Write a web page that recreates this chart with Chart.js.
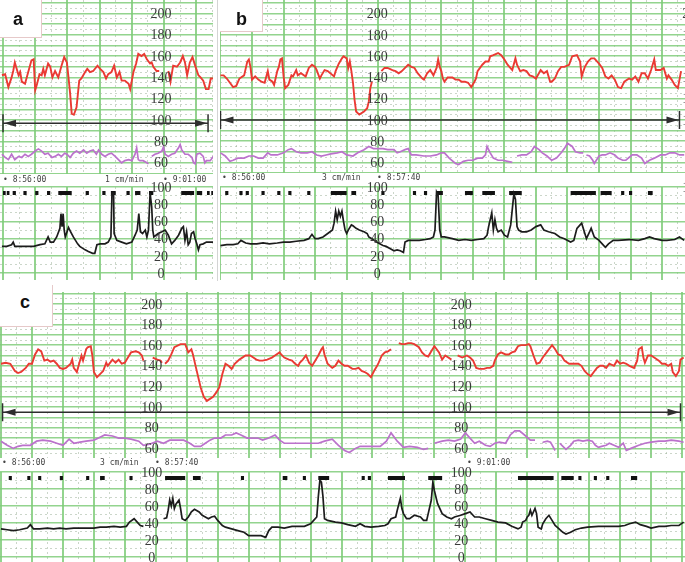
<!DOCTYPE html>
<html>
<head>
<meta charset="utf-8">
<script src="https://cdn.jsdelivr.net/npm/chart.js@4.4.0/dist/chart.umd.min.js"></script>
<style>
  body { margin: 0; background: #fff; }
  #page { position: relative; width: 685px; height: 562px; overflow: hidden; background: #fff; }
  #page canvas { position: absolute; }
  .strip { position: absolute; font: 8px "DejaVu Sans Mono", monospace; color: #444; white-space: pre; line-height: 10px; }
  .box { position: absolute; background: #fff; border-right: 1px solid #e6c9c9; border-bottom: 1px solid #e6c9c9; }
  .tag { position: absolute; font: bold 18px "Liberation Sans", Arial, sans-serif; line-height: 18px; color: #111; }
  .sep { position: absolute; left: 217px; top: 0; width: 1px; height: 281px; background: #d4d4d4; }
</style>
</head>
<body>
<div id="page">
  <canvas id="aF" width="213" height="174" style="left:0;top:0"></canvas>
  <canvas id="aU" width="213" height="99" style="left:0;top:181px"></canvas>
  <canvas id="bF" width="465" height="173" style="left:220px;top:0"></canvas>
  <canvas id="bU" width="465" height="99" style="left:220px;top:181px"></canvas>
  <canvas id="cF" width="685" height="166" style="left:0;top:292px"></canvas>
  <canvas id="cU" width="685" height="96" style="left:0;top:466px"></canvas>
  <div class="sep"></div>

  <div class="strip" style="left:3px;top:175px">• 8:56:00</div>
  <div class="strip" style="left:105px;top:175px">1 cm/min</div>
  <div class="strip" style="left:163px;top:175px">• 9:01:00</div>
  <div class="strip" style="left:222px;top:173px">• 8:56:00</div>
  <div class="strip" style="left:322px;top:173px">3 cm/min</div>
  <div class="strip" style="left:377px;top:173px">• 8:57:40</div>
  <div class="strip" style="left:2px;top:458px">• 8:56:00</div>
  <div class="strip" style="left:100px;top:458px">3 cm/min</div>
  <div class="strip" style="left:155px;top:458px">• 8:57:40</div>
  <div class="strip" style="left:467px;top:458px">• 9:01:00</div>

  <div class="box" style="left:0;top:0;width:41px;height:37px"></div>
  <div class="tag" style="left:13px;top:10px">a</div>
  <div class="box" style="left:220px;top:0;width:42px;height:31px"></div>
  <div class="tag" style="left:236px;top:10px">b</div>
  <div class="box" style="left:0;top:285px;width:52px;height:41px"></div>
  <div class="tag" style="left:20px;top:293px">c</div>
</div>
<script>
// time axis: seconds after 8:56:00; heart rate in bpm; contraction in units 0-100
const fhrTicks = [200, 180, 160, 140, 120, 100, 80, 60];
const ucTicks = [100, 80, 60, 40, 20, 0];
const markLevel = 93;

// ---- panel a (1 cm/min)
const aFhr = [[-2,142],[4,143],[10,131],[16,140],[19,146],[22,154],[29,142],[32,145],[35,136],[41,134],[47,145],[53,156],[57,157],[60,128],[63,133],[68,143],[72,142],[75,148],[78,142],[84,153],[88,150],[92,140],[97,146],[103,140],[109,151],[114,159],[119,154],[122,140],[125,125],[128,106],[132,105],[137,112],[142,137],[146,139],[153,145],[157,148],[162,145],[168,146],[176,151],[181,148],[187,145],[192,139],[196,143],[202,145],[207,151],[212,140],[217,145],[221,137],[227,137],[234,134],[237,129],[240,137],[243,145],[248,153],[252,162],[258,160],[263,162],[268,157],[274,153],[277,154],[280,150],[286,146],[291,146],[299,null],[308,146],[312,136],[317,151],[324,150],[330,154],[335,160],[339,154],[343,142],[348,154],[353,159],[358,151],[364,142],[368,140],[373,137],[378,129],[383,129],[387,139],[392,139]];
const aMhr = [[-2,68],[4,65],[10,63],[16,68],[22,63],[29,66],[35,65],[41,68],[47,66],[53,68],[60,71],[66,73],[72,71],[78,68],[84,69],[91,65],[97,66],[103,68],[109,66],[115,69],[119,68],[125,65],[131,69],[137,71],[143,69],[150,72],[156,69],[162,71],[168,72],[174,68],[178,72],[184,68],[190,66],[196,68],[202,69],[209,66],[215,63],[221,60],[227,62],[234,63],[240,62],[246,68],[249,74],[252,63],[255,62],[261,62],[268,60],[271,59],[274,null],[277,66],[283,68],[289,69],[296,71],[299,75],[302,68],[308,66],[314,68],[320,69],[327,74],[330,77],[333,72],[339,68],[345,68],[352,65],[355,60],[358,59],[361,68],[367,69],[373,66],[376,60],[379,62],[386,62],[392,66]];
const aUc = [[-2,31],[7,31],[16,33],[19,36],[22,31],[32,31],[44,31],[57,31],[69,33],[78,34],[84,42],[88,36],[94,36],[100,42],[106,52],[108,69],[110,54],[112,69],[114,50],[116,42],[122,53],[126,48],[131,42],[139,34],[143,31],[153,27],[159,25],[167,23],[171,23],[175,33],[181,34],[190,34],[196,36],[201,42],[203,93],[206,93],[207,46],[212,38],[221,36],[230,34],[240,36],[246,44],[250,50],[253,69],[256,48],[260,46],[265,50],[268,42],[271,50],[274,93],[277,77],[279,50],[281,42],[289,46],[296,48],[302,50],[308,44],[314,34],[320,38],[327,44],[333,52],[336,54],[339,38],[342,48],[345,33],[348,36],[351,46],[355,48],[358,40],[361,34],[364,27],[367,33],[373,34],[379,36],[392,36]];
const aMoves = [[0,5],[7,12],[18,24],[38,44],[60,66],[82,88],[103,128],[154,160],[185,191],[201,210],[230,236],[246,256],[272,280],[332,356],[361,371],[380,385],[388,392]];
const aArrow = [0, 382, 97];
const aCols = [296];

// ---- panel b (3 cm/min)
const bFhr = [[0,142],[2,142],[4,139],[6,135],[8,131],[10,132],[12,139],[15,142],[17,155],[18,157],[19,150],[20,138],[22,141],[24,138],[26,136],[28,135],[30,146],[31,138],[33,136],[34,133],[36,146],[37,150],[38,157],[39,158],[40,141],[41,130],[43,133],[45,142],[46,141],[48,147],[49,142],[51,144],[54,141],[56,149],[58,152],[60,150],[61,147],[63,139],[64,142],[66,147],[68,146],[72,141],[73,146],[75,153],[77,158],[78,160],[80,158],[81,149],[82,155],[83,146],[84,135],[85,119],[86,108],[88,105],[91,108],[93,111],[94,117],[95,130],[96,136],[99,null],[102,146],[104,149],[106,149],[109,147],[111,146],[113,144],[115,146],[117,149],[119,152],[121,150],[123,149],[125,144],[128,139],[129,138],[131,144],[133,147],[135,142],[137,149],[138,157],[139,150],[140,146],[141,139],[142,136],[144,140],[147,140],[149,138],[151,138],[153,136],[155,136],[157,135],[159,131],[161,136],[162,139],[163,146],[166,152],[168,155],[170,155],[171,160],[173,161],[176,163],[178,161],[180,157],[182,152],[185,147],[187,158],[188,152],[190,146],[192,147],[194,146],[196,142],[198,141],[200,139],[203,147],[205,144],[207,146],[209,136],[210,136],[212,139],[214,146],[216,150],[218,150],[221,152],[223,160],[226,161],[228,155],[229,141],[231,150],[233,155],[235,158],[237,158],[240,153],[242,149],[244,141],[246,139],[248,142],[250,138],[252,131],[254,130],[256,136],[259,139],[261,138],[263,141],[265,136],[267,144],[269,144],[271,139],[273,147],[275,157],[276,147],[279,147],[281,149],[283,139],[284,142],[286,138],[288,133],[290,130],[292,146]];
const bMhr = [[0,69],[3,66],[6,61],[8,62],[11,64],[15,64],[18,66],[21,66],[24,64],[27,64],[30,69],[32,67],[36,67],[40,69],[43,72],[45,73],[48,70],[51,69],[55,69],[58,70],[61,67],[64,66],[67,67],[70,68],[74,69],[77,70],[80,67],[84,66],[87,69],[91,72],[94,75],[97,73],[100,73],[103,73],[106,72],[110,72],[112,69],[114,70],[117,72],[119,73],[121,67],[124,67],[129,66],[133,66],[137,67],[140,69],[142,69],[145,64],[149,59],[151,58],[154,61],[157,62],[160,62],[163,64],[166,64],[168,67],[169,75],[171,69],[173,64],[176,62],[179,62],[182,61],[185,60],[186,null],[188,66],[191,67],[194,67],[197,70],[199,75],[202,72],[204,69],[207,66],[210,62],[213,64],[216,69],[218,73],[220,78],[223,75],[225,70],[228,69],[230,69],[231,null],[232,67],[234,66],[236,62],[237,59],[240,66],[242,67],[244,67],[247,69],[250,67],[252,64],[255,62],[257,62],[261,67],[264,67],[267,64],[269,59],[272,62],[275,64],[279,67],[282,67],[285,69],[288,69],[291,67],[294,67]];
const bUc = [[0,32],[4,33],[8,33],[11,34],[13,38],[16,35],[19,34],[23,34],[27,35],[31,34],[36,35],[40,36],[44,36],[48,37],[53,38],[56,40],[58,45],[60,40],[62,40],[65,42],[68,46],[71,50],[72,58],[73,72],[74,62],[75,72],[76,66],[77,72],[78,60],[79,50],[80,46],[81,50],[83,56],[84,55],[86,52],[88,50],[91,48],[93,46],[94,42],[96,40],[99,36],[101,34],[103,32],[105,31],[108,28],[110,26],[112,27],[114,26],[116,24],[117,36],[119,38],[122,38],[126,38],[130,39],[133,40],[135,42],[136,50],[137,94],[138,90],[139,50],[140,42],[142,42],[147,40],[151,38],[155,39],[159,38],[163,39],[167,40],[169,44],[170,54],[172,70],[173,50],[174,62],[175,52],[176,48],[178,50],[180,44],[182,42],[184,56],[185,74],[186,92],[187,86],[188,54],[189,50],[191,48],[194,48],[197,50],[200,54],[203,56],[205,50],[208,48],[212,46],[215,42],[218,40],[222,36],[224,38],[226,52],[228,56],[229,58],[231,46],[232,40],[234,48],[235,52],[237,42],[240,38],[242,34],[244,30],[246,34],[249,38],[252,38],[259,39],[265,38],[269,40],[272,42],[275,40],[280,38],[283,38],[288,39],[291,42],[294,38]];
const bMoves = [[3,5],[12,14],[16,18],[26,28],[36,38],[43,45],[55,57],[70,80],[83,86],[102,104],[122,124],[129,131],[137,141],[155,160],[166,174],[183,191],[222,238],[241,248],[254,256],[259,261],[271,274]];
const bArrow = [0, 291, 100];
const bCols = [100, 300];

// ---- panel c (3 cm/min)
const cFhr = [[0,142],[3,143],[6,142],[9,135],[11,133],[13,134],[16,138],[18,142],[20,142],[22,151],[24,156],[26,154],[28,145],[30,146],[32,144],[34,145],[36,142],[38,138],[40,137],[42,138],[45,142],[46,146],[47,138],[49,134],[51,145],[52,150],[53,145],[55,156],[56,158],[58,159],[59,150],[60,134],[62,129],[64,132],[66,135],[68,143],[69,140],[72,146],[74,143],[76,146],[78,142],[80,143],[82,148],[84,153],[87,154],[89,153],[91,150],[92,145],[95,null],[98,148],[101,146],[103,145],[104,143],[105,null],[106,142],[108,145],[110,151],[112,158],[116,161],[119,161],[121,153],[123,156],[124,151],[126,138],[129,119],[131,110],[133,106],[135,108],[137,110],[139,114],[141,119],[143,132],[145,142],[147,140],[149,137],[151,142],[154,146],[158,150],[161,150],[163,148],[165,146],[167,145],[169,145],[172,146],[175,148],[177,150],[180,153],[181,151],[183,148],[186,146],[188,145],[190,142],[192,140],[193,143],[195,146],[197,150],[199,143],[201,140],[203,145],[205,150],[207,156],[208,158],[209,151],[211,142],[214,138],[216,140],[218,145],[220,142],[222,140],[224,140],[227,137],[229,137],[231,138],[233,135],[235,134],[237,132],[239,129],[241,135],[243,140],[244,143],[246,150],[248,153],[250,154],[252,156],[254,null],[257,162],[259,161],[261,161],[263,162],[265,162],[267,161],[270,158],[272,153],[274,150],[276,149],[278,154],[280,159],[283,153],[285,146],[287,150],[289,148],[291,146],[293,null],[295,150],[298,148],[301,150],[303,148],[305,145],[307,138],[309,137],[312,137],[314,138],[316,138],[318,140],[319,145],[321,151],[323,153],[326,151],[328,151],[330,153],[332,154],[334,159],[336,160],[339,160],[341,161],[342,159],[344,150],[346,142],[348,143],[350,148],[353,154],[355,158],[356,160],[358,156],[360,151],[362,150],[364,145],[367,142],[369,142],[371,142],[373,142],[375,140],[377,135],[379,132],[381,130],[383,134],[385,138],[387,140],[389,140],[391,138],[393,142],[396,140],[398,145],[400,142],[402,143],[404,142],[406,140],[409,138],[411,145],[412,156],[414,158],[415,148],[416,143],[418,150],[420,150],[422,148],[425,145],[427,142],[429,142],[431,140],[433,142],[434,134],[436,130],[438,135],[439,146],[441,148]];
const cMhr = [[0,67],[4,63],[8,60],[11,62],[14,63],[19,63],[23,67],[27,68],[32,67],[36,65],[40,63],[44,69],[47,65],[51,66],[55,67],[60,68],[63,70],[67,73],[72,72],[76,70],[80,70],[84,69],[89,67],[92,63],[96,64],[101,67],[105,65],[109,68],[114,68],[118,68],[122,65],[125,62],[129,62],[132,65],[135,68],[138,70],[142,70],[145,73],[149,73],[152,75],[155,73],[159,70],[163,70],[166,70],[169,68],[173,70],[177,73],[180,68],[183,65],[188,65],[192,65],[196,65],[201,65],[205,65],[209,67],[214,69],[218,63],[222,58],[225,56],[229,60],[232,62],[236,62],[241,62],[245,62],[249,67],[252,75],[256,67],[260,61],[264,62],[269,61],[273,59],[276,60],[278,null],[280,65],[285,67],[289,68],[293,67],[297,69],[300,75],[303,70],[306,65],[309,67],[313,63],[316,62],[319,65],[322,66],[326,65],[329,73],[332,77],[335,77],[339,72],[342,68],[345,68],[347,null],[350,66],[353,67],[355,66],[358,58],[359,null],[361,65],[363,62],[365,59],[368,63],[370,67],[373,68],[376,67],[379,68],[382,67],[384,63],[386,61],[388,62],[391,63],[393,65],[396,63],[399,61],[402,65],[404,58],[407,60],[412,63],[416,65],[420,66],[425,67],[429,67],[433,68],[438,67],[441,66]];
const cUc = [[0,33],[4,32],[8,31],[12,32],[17,34],[19,38],[21,33],[25,33],[30,34],[34,33],[38,34],[42,33],[47,34],[51,34],[55,34],[60,34],[64,35],[68,35],[73,36],[77,35],[81,36],[83,41],[86,45],[88,41],[90,37],[92,36],[96,null],[105,45],[107,46],[108,55],[109,67],[110,60],[111,69],[112,57],[113,62],[115,67],[116,57],[117,45],[119,43],[121,47],[123,53],[125,56],[128,53],[130,49],[132,47],[134,45],[136,47],[138,48],[140,43],[143,37],[145,35],[149,33],[153,31],[157,29],[160,25],[164,25],[168,25],[171,23],[173,31],[175,35],[179,35],[183,34],[188,36],[192,36],[196,36],[200,39],[202,43],[204,47],[205,71],[206,90],[207,88],[208,71],[209,45],[211,43],[216,41],[220,40],[224,38],[229,36],[232,39],[235,36],[239,35],[244,36],[248,37],[250,39],[252,45],[255,47],[256,55],[258,69],[259,57],[260,51],[262,45],[264,45],[267,49],[271,47],[273,43],[275,43],[276,51],[278,67],[279,88],[280,78],[282,63],[285,51],[288,47],[291,45],[293,47],[297,49],[300,51],[303,53],[306,47],[309,47],[313,45],[317,43],[321,41],[326,40],[330,36],[334,33],[336,35],[337,41],[339,43],[340,47],[341,49],[342,55],[343,49],[345,57],[346,51],[347,35],[349,33],[350,39],[352,45],[354,49],[356,43],[358,37],[360,34],[363,29],[365,27],[368,29],[371,32],[375,34],[379,35],[386,36],[392,36],[399,36],[403,37],[406,39],[410,41],[413,38],[417,36],[420,34],[425,36],[429,36],[433,37],[438,37],[441,41]];
const cMoves = [[5,7],[17,19],[24,26],[38,40],[55,57],[64,67],[83,85],[106,119],[124,129],[155,157],[182,185],[195,197],[205,212],[233,235],[237,239],[250,261],[276,285],[334,357],[362,370],[373,375],[383,385],[391,393],[407,411]];
const cArrow = [1, 439, 95];
const cCols = [98, 298];

const gridGreen = 'rgba(128, 204, 122, 0.85)';
const gridDot = 'rgba(160, 180, 156, 0.55)';
const red = '#ea3a33', purple = '#bb72cc', black = '#1c1c1c';

function range(a, b, step) { const r = []; for (let v = a; v <= b + 1e-9; v += step) r.push(v); return r; }
function pts(pairs) { return pairs.map(p => ({ x: p[0], y: p[1] })); }
function marks(list) {
  const out = [];
  list.forEach(s => out.push({ x: s[0], y: markLevel }, { x: s[1], y: markLevel }, { x: s[1], y: null }));
  return out;
}

const paperPlugin = {
  id: 'paper',
  afterDatasetsDraw(chart, args, opts) {
    const ctx = chart.ctx, xs = chart.scales.x, ys = chart.scales.y;
    ctx.save();
    if (opts.arrow) {
      const a = opts.arrow;
      const x1 = xs.getPixelForValue(a[0]), x2 = xs.getPixelForValue(a[1]), y = ys.getPixelForValue(a[2]);
      ctx.strokeStyle = '#2e2e2e'; ctx.fillStyle = '#2e2e2e'; ctx.lineWidth = 1.5;
      ctx.beginPath();
      ctx.moveTo(x1, y); ctx.lineTo(x2, y);
      ctx.moveTo(x1, y - 9); ctx.lineTo(x1, y + 9);
      ctx.moveTo(x2, y - 9); ctx.lineTo(x2, y + 9);
      ctx.stroke();
      ctx.beginPath();
      ctx.moveTo(x1 + 1, y); ctx.lineTo(x1 + 13, y - 3.5); ctx.lineTo(x1 + 13, y + 3.5); ctx.closePath();
      ctx.moveTo(x2 - 1, y); ctx.lineTo(x2 - 13, y - 3.5); ctx.lineTo(x2 - 13, y + 3.5); ctx.closePath();
      ctx.fill();
    }
    ctx.font = '14px "Liberation Serif", "DejaVu Serif", serif';
    ctx.fillStyle = '#3a3a3a';
    ctx.textAlign = 'center';
    ctx.textBaseline = 'middle';
    opts.cols.forEach(c => {
      opts.labels.forEach(v => ctx.fillText(String(v), xs.getPixelForValue(c) - 1, ys.getPixelForValue(v) + 1));
    });
    ctx.restore();
  }
};

function gridAxis(horiz, min, max, vals, major) {
  return {
    type: 'linear', axis: horiz ? 'x' : 'y', position: horiz ? 'bottom' : 'left',
    min: min, max: max, bounds: 'data', z: major ? 0 : -1,
    ticks: { display: false },
    border: { display: false, dash: major ? [] : [2, 3] },
    grid: { color: major ? gridGreen : gridDot, lineWidth: major ? (horiz ? 2 : 1.6) : 1, drawTicks: false },
    afterBuildTicks: s => { s.ticks = vals.map(v => ({ value: v })); }
  };
}

function paper(id, spec) {
  const datasets = spec.lines.map(l => ({
    data: pts(l.data), borderColor: l.color, borderWidth: l.width,
    pointRadius: 0, tension: 0, spanGaps: false, xAxisID: 'x', yAxisID: 'y'
  }));
  if (spec.moves) {
    datasets.push({
      data: marks(spec.moves), borderColor: '#111', borderWidth: 4, borderCapStyle: 'butt',
      pointRadius: 0, spanGaps: false, xAxisID: 'x', yAxisID: 'y'
    });
  }
  new Chart(document.getElementById(id), {
    type: 'line',
    data: { datasets: datasets },
    options: {
      responsive: false, animation: false, devicePixelRatio: 1,
      layout: { padding: { top: spec.padTop || 0 } },
      plugins: { legend: { display: false }, tooltip: { enabled: false },
        paper: { labels: spec.labels, cols: spec.cols, arrow: spec.arrow } },
      scales: {
        x: gridAxis(true, spec.x[0], spec.x[1], spec.xMajor, true),
        xm: gridAxis(true, spec.x[0], spec.x[1], spec.xMinor, false),
        y: gridAxis(false, spec.y[0], spec.y[1], spec.yMajor, true),
        ym: gridAxis(false, spec.y[0], spec.y[1], spec.yMinor, false)
      }
    },
    plugins: [paperPlugin]
  });
}

const fhrMajor = range(50, 210, 10), fhrMinor = range(55, 205, 10);
const ucMajor = range(0, 100, 20), ucMinor = range(10, 90, 20);
const aX = [-5.6, 391.2], bX = [-0.3, 294.5], cX = [-0.65, 441.9];
const aGrid = { xMajor: range(0, 360, 60), xMinor: range(30, 390, 60) };
const bGrid = { xMajor: range(0, 280, 20), xMinor: range(10, 290, 20) };
const cGrid = { xMajor: range(0, 440, 20), xMinor: range(10, 430, 20) };

paper('aF', Object.assign({ x: aX, y: [49.5, 212.5], yMajor: fhrMajor, yMinor: fhrMinor,
  lines: [{ data: aMhr, color: purple, width: 1.7 }, { data: aFhr, color: red, width: 1.9 }],
  labels: fhrTicks, cols: aCols, arrow: aArrow }, aGrid));
paper('aU', Object.assign({ x: aX, y: [-8, 100], yMajor: ucMajor, yMinor: ucMinor, padTop: 6,
  lines: [{ data: aUc, color: black, width: 1.7 }], moves: aMoves,
  labels: ucTicks, cols: aCols }, aGrid));
paper('bF', Object.assign({ x: bX, y: [50, 213], yMajor: fhrMajor, yMinor: fhrMinor,
  lines: [{ data: bMhr, color: purple, width: 1.7 }, { data: bFhr, color: red, width: 1.9 }],
  labels: fhrTicks, cols: bCols, arrow: bArrow }, bGrid));
paper('bU', Object.assign({ x: bX, y: [-8, 100], yMajor: ucMajor, yMinor: ucMinor, padTop: 6,
  lines: [{ data: bUc, color: black, width: 1.7 }], moves: bMoves,
  labels: ucTicks, cols: bCols }, bGrid));
paper('cF', Object.assign({ x: cX, y: [50.7, 211.5], yMajor: fhrMajor, yMinor: fhrMinor,
  lines: [{ data: cMhr, color: purple, width: 1.7 }, { data: cFhr, color: red, width: 1.9 }],
  labels: fhrTicks, cols: cCols, arrow: cArrow }, cGrid));
paper('cU', Object.assign({ x: cX, y: [-6, 100], yMajor: ucMajor, yMinor: ucMinor, padTop: 6,
  lines: [{ data: cUc, color: black, width: 1.7 }], moves: cMoves,
  labels: ucTicks, cols: cCols }, cGrid));
</script>
</body>
</html>
